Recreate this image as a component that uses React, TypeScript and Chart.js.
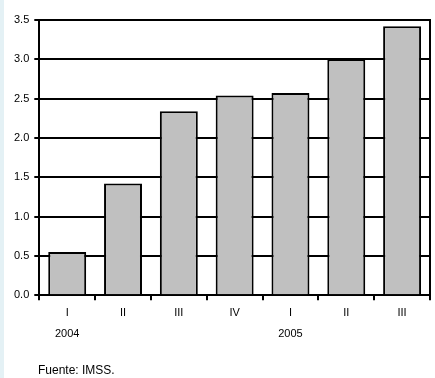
import React, { useEffect, useRef } from "react";
import { Chart, registerables } from "chart.js";

Chart.register(...registerables);

const quarters = ["I", "II", "III", "IV", "I", "II", "III"];
const years = ["2004", "", "", "", "2005", "", ""];
const values = [0.55, 1.42, 2.34, 2.54, 2.57, 3.0, 3.42];
const yTicks = [0, 0.5, 1.0, 1.5, 2.0, 2.5, 3.0, 3.5];
const source = "Fuente: IMSS.";

export default function App() {
  const ref = useRef<HTMLCanvasElement | null>(null);
  useEffect(() => {
    document.body.style.margin = "0";
    const labels = quarters.map((q, i) => (years[i] ? [q, years[i]] : q));
    const chart = new Chart(ref.current!, {
      type: "bar",
      data: {
        labels,
        datasets: [
          {
            data: values,
            backgroundColor: "#c0c0c0",
            borderColor: "#000000",
            borderWidth: 2,
            categoryPercentage: 1,
            barPercentage: 0.68,
          },
        ],
      },
      options: {
        animation: false,
        responsive: false,
        maintainAspectRatio: false,
        layout: { padding: { top: 20, right: 5, bottom: 32, left: 9 } },
        plugins: { legend: { display: false }, tooltip: { enabled: false } },
        scales: {
          x: {
            grid: {
              offset: true,
              drawOnChartArea: false,
              color: "#000",
              lineWidth: 2,
              tickLength: 5,
            },
            border: { color: "#000", width: 2 },
            ticks: {
              color: "#000",
              font: { family: "Liberation Sans, Arial", size: 11, lineHeight: 1.9 },
              maxRotation: 0,
              autoSkip: false,
              padding: 2,
            },
          },
          y: {
            min: 0,
            max: 3.5,
            afterBuildTicks: (axis: any) => {
              axis.ticks = yTicks.map((v) => ({ value: v }));
            },
            grid: { color: "#000", lineWidth: 2, tickLength: 5 },
            border: { color: "#000", width: 2 },
            ticks: {
              color: "#000",
              font: { family: "Liberation Sans, Arial", size: 11 },
              padding: 5,
              callback: (v: any) => Number(v).toFixed(1),
            },
          },
          y2: {
            position: "right",
            min: 0,
            max: 3.5,
            grid: { display: false, drawTicks: false },
            border: { color: "#000", width: 2 },
            ticks: { display: false },
          },
        },
      },
    });
    return () => chart.destroy();
  }, []);
  return (
    <div style={{ position: "relative", width: 435, height: 378, background: "#fff" }}>
      <div style={{ position: "absolute", left: 0, top: 0, width: 4, height: 378, background: "#e4f1f5" }} />
      <canvas ref={ref} width={435} height={378} style={{ display: "block" }} />
      <div
        style={{
          position: "absolute",
          left: 38,
          top: 363,
          fontFamily: "Liberation Sans, Arial, sans-serif",
          fontSize: 12,
          color: "#000",
          lineHeight: "14px",
        }}
      >
        {source}
      </div>
    </div>
  );
}
